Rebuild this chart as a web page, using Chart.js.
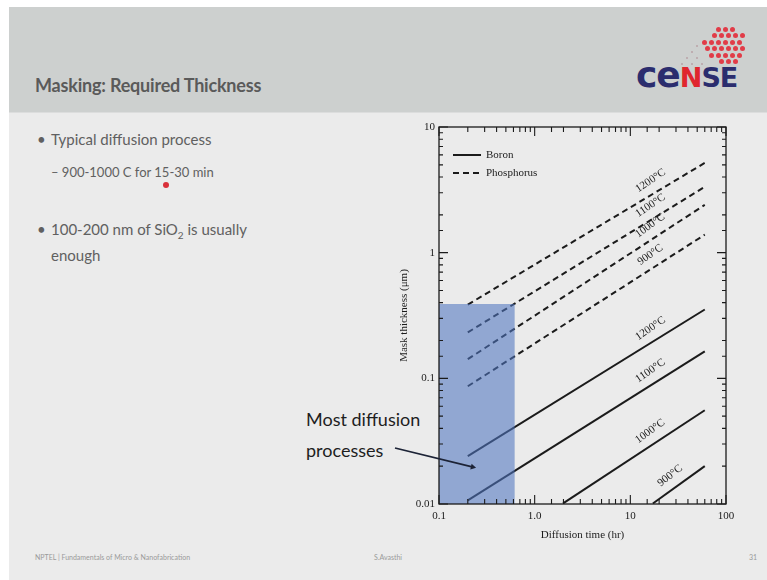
<!DOCTYPE html>
<html>
<head>
<meta charset="utf-8">
<script src="https://cdn.jsdelivr.net/npm/chart.js@4.4.1/dist/chart.umd.min.js"></script>
<style>
  html, body { margin: 0; padding: 0; background: #fff; }
  body { width: 767px; height: 580px; position: relative; overflow: hidden; font-family: Lato, "Open Sans", sans-serif; }
  .slide { position: absolute; left: 9px; top: 7px; width: 758px; height: 573px; background: #ebebeb; }
  .header { position: absolute; left: 0; top: 0; width: 758px; height: 105px; background: #cdd0cf; border-bottom: 1px solid #dcdddd; }
  .title { position: absolute; left: 26px; top: 67px; font-size: 18px; color: #5a5a5a; font-weight: 700; letter-spacing: -0.2px; }
  .logo { position: absolute; left: 627px; top: 47px; color: #2b2d6e; font-weight: 900; font-family: "DejaVu Sans", sans-serif; letter-spacing: -1px; }
  .logo .lc { font-size: 36px; }
  .logo .uc { font-size: 27px; }
  .logo .red { color: #e0262e; }
  .dot { position: absolute; border-radius: 50%; background: #e23a44; }
  .txt { position: absolute; color: #606060; white-space: nowrap; }
  .b1 { font-size: 15px; }
  .b2 { font-size: 13px; }
  .note { position: absolute; left: 306px; top: 404px; font-size: 18px; line-height: 31px; color: #1e1e1e; }
  .foot { position: absolute; top: 553px; font-size: 7px; color: #9a9a9a; }
  #chart { position: absolute; left: 0; top: 0; z-index: 2; }
</style>
</head>
<body>
<div class="slide">
  <div class="header">
    <div class="title">Masking: Required Thickness</div>
    <div class="logo"><span class="lc">ce</span><span class="uc red">N</span><span class="uc">SE</span></div>
  </div>
</div>
<div id="dots"></div>
<div class="txt b1" style="left:37px;top:130px;">•</div>
<div class="txt b1" style="left:51px;top:130px;">Typical diffusion process</div>
<div class="txt b2" style="left:51px;top:164px;">– 900-1000 C for 15-30 min</div>
<div class="dot" style="left:163px;top:182px;width:6px;height:6px;background:#d9303a;"></div>
<div class="txt b1" style="left:37px;top:220px;">•</div>
<div class="txt b1" style="left:51px;top:220px;">100-200 nm of SiO<sub style="font-size:10px;">2</sub> is usually</div>
<div class="txt b1" style="left:51px;top:246px;">enough</div>
<div class="note">Most diffusion<br>processes</div>
<div class="foot" style="left:35px;">NPTEL | Fundamentals of Micro &amp; Nanofabrication</div>
<div class="foot" style="left:374px;">S.Avasthi</div>
<div class="foot" style="left:749px;">31</div>
<canvas id="chart" width="767" height="580"></canvas>
<script>
// values (time in hr, thickness in um)
const tempLabels = ['1200°C', '1100°C', '1000°C', '900°C'];

const boronT0 = [0.2, 0.2, 1.98, 17.2];
const boronT1 = [60, 60, 60, 60];
const boronY0 = [0.024, 0.0107, 0.0101, 0.0101];
const boronY1 = [0.353, 0.164, 0.0557, 0.020];
const boronLabelT = [19, 19, 19, 31];

const phosT0 = [0.2, 0.2, 0.2, 0.2];
const phosT1 = [60, 60, 60, 60];
const phosY0 = [0.386, 0.232, 0.142, 0.0865];
const phosY1 = [5.18, 3.34, 2.40, 1.39];
const phosLabelT = [19, 19, 19, 19];

const regionT = [0.1, 0.62];
const regionTop = 0.39;

const xTickVals = [0.1, 1, 10, 100];
const xTickText = ['0.1', '1.0', '10', '100'];
const yTickVals = [0.01, 0.1, 1, 10];
const yTickText = ['0.01', '0.1', '1', '10'];

const INK = '#1b1b1b';
const SERIF = '"Liberation Serif", "DejaVu Serif", serif';

// logo dots (decoration)
(function () {
  const box = document.getElementById('dots');
  const spans = [[2, 4], [1, 5], [0, 5], [0, 5], [1, 5], [2, 4]];
  const add = (x, y, s, col) => {
    const d = document.createElement('div');
    d.className = 'dot';
    d.style.width = s + 'px';
    d.style.height = s + 'px';
    d.style.left = (x - s / 2) + 'px';
    d.style.top = (y - s / 2) + 'px';
    d.style.background = col;
    box.appendChild(d);
  };
  spans.forEach((sp, r) => {
    for (let c = sp[0]; c <= sp[1]; c++) add(704 + c * 7 + (r % 2) * 3, 29 + r * 6.5, 5, '#e13c48');
  });
  [[697, 46], [692, 52], [687, 58], [697, 58], [692, 64], [682, 64], [702, 64]].forEach(p => add(p[0], p[1], 2, '#b9a3a7'));
})();

function matchTick(value, vals, text) {
  for (let i = 0; i < vals.length; i++) {
    if (Math.abs(Math.log10(value) - Math.log10(vals[i])) < 1e-6) return text[i];
  }
  return '';
}

function lineDataset(t0, t1, y0, y1, dashed) {
  return {
    data: [{ x: t0, y: y0 }, { x: t1, y: y1 }],
    borderColor: INK,
    borderWidth: 2,
    borderDash: dashed ? [6, 4] : [],
    pointRadius: 0,
    fill: false
  };
}

const datasets = [];
// shaded region first so it is painted last (on top, semi-transparent)
datasets.push({
  data: [{ x: regionT[0], y: regionTop }, { x: regionT[1], y: regionTop }],
  borderWidth: 0,
  pointRadius: 0,
  fill: 'start',
  backgroundColor: 'rgba(80,118,192,0.58)'
});
for (let i = 0; i < tempLabels.length; i++) {
  datasets.push(lineDataset(phosT0[i], phosT1[i], phosY0[i], phosY1[i], true));
  datasets.push(lineDataset(boronT0[i], boronT1[i], boronY0[i], boronY1[i], false));
}

function lerpLog(t, t0, t1, y0, y1) {
  const f = (Math.log10(t) - Math.log10(t0)) / (Math.log10(t1) - Math.log10(t0));
  return Math.pow(10, Math.log10(y0) + f * (Math.log10(y1) - Math.log10(y0)));
}

const decorPlugin = {
  id: 'decor',
  afterDraw(chart) {
    const ctx = chart.ctx;
    const a = chart.chartArea;
    const xs = chart.scales.x;
    const ys = chart.scales.y;
    ctx.save();

    // frame
    ctx.strokeStyle = INK;
    ctx.lineWidth = 1.3;
    ctx.strokeRect(a.left, a.top, a.right - a.left, a.bottom - a.top);

    // inward ticks on all four sides
    ctx.lineWidth = 1.1;
    ctx.beginPath();
    xs.ticks.forEach(tk => {
      const p = xs.getPixelForValue(tk.value);
      const major = Math.abs(Math.log10(tk.value) - Math.round(Math.log10(tk.value))) < 1e-6;
      const len = major ? 9 : 5;
      ctx.moveTo(p, a.bottom); ctx.lineTo(p, a.bottom - len);
      ctx.moveTo(p, a.top); ctx.lineTo(p, a.top + len);
    });
    ys.ticks.forEach(tk => {
      const p = ys.getPixelForValue(tk.value);
      const major = Math.abs(Math.log10(tk.value) - Math.round(Math.log10(tk.value))) < 1e-6;
      const len = major ? 9 : 4;
      ctx.moveTo(a.left, p); ctx.lineTo(a.left + len, p);
      ctx.moveTo(a.right, p); ctx.lineTo(a.right - len, p);
    });
    ctx.stroke();

    // curve labels
    ctx.fillStyle = INK;
    ctx.font = '11px ' + SERIF;
    ctx.textAlign = 'center';
    ctx.textBaseline = 'middle';
    const drawLabel = (txt, tl, t0, t1, y0, y1) => {
      const px0 = xs.getPixelForValue(t0), py0 = ys.getPixelForValue(y0);
      const px1 = xs.getPixelForValue(t1), py1 = ys.getPixelForValue(y1);
      const ang = Math.atan2(py1 - py0, px1 - px0);
      const px = xs.getPixelForValue(tl);
      const py = ys.getPixelForValue(lerpLog(tl, t0, t1, y0, y1));
      const d = 12.5;
      ctx.save();
      ctx.translate(px + Math.sin(ang) * d, py - Math.cos(ang) * d);
      ctx.rotate(ang - 0.05);
      ctx.fillText(txt, 0, 0);
      ctx.restore();
    };
    for (let i = 0; i < tempLabels.length; i++) {
      drawLabel(tempLabels[i], phosLabelT[i], phosT0[i], phosT1[i], phosY0[i], phosY1[i]);
      drawLabel(tempLabels[i], boronLabelT[i], boronT0[i], boronT1[i], boronY0[i], boronY1[i]);
    }

    // legend
    ctx.textAlign = 'left';
    ctx.lineWidth = 2;
    ctx.beginPath();
    ctx.moveTo(453, 155); ctx.lineTo(481, 155);
    ctx.stroke();
    ctx.setLineDash([6, 4]);
    ctx.beginPath();
    ctx.moveTo(453, 173); ctx.lineTo(483, 173);
    ctx.stroke();
    ctx.setLineDash([]);
    ctx.fillText('Boron', 486, 155);
    ctx.fillText('Phosphorus', 486, 173);

    // arrow from the note into the shaded region
    const hx = xs.getPixelForValue(0.244), hy = ys.getPixelForValue(0.0194);
    const tx = 395, ty = 448;
    const aa = Math.atan2(hy - ty, hx - tx);
    ctx.strokeStyle = '#1c2336';
    ctx.fillStyle = '#1c2336';
    ctx.lineWidth = 1.8;
    ctx.beginPath();
    ctx.moveTo(tx, ty); ctx.lineTo(hx - Math.cos(aa) * 4, hy - Math.sin(aa) * 4);
    ctx.stroke();
    ctx.beginPath();
    ctx.moveTo(hx, hy);
    ctx.lineTo(hx - Math.cos(aa - 0.5) * 6, hy - Math.sin(aa - 0.5) * 6);
    ctx.lineTo(hx - Math.cos(aa + 0.5) * 6, hy - Math.sin(aa + 0.5) * 6);
    ctx.closePath();
    ctx.fill();

    ctx.restore();
  }
};

new Chart(document.getElementById('chart'), {
  type: 'line',
  data: { datasets },
  options: {
    responsive: false,
    animation: false,
    events: [],
    layout: { padding: { left: 398, right: 41, top: 127, bottom: 36 } },
    plugins: { legend: { display: false }, tooltip: { enabled: false } },
    scales: {
      x: {
        type: 'logarithmic',
        min: 0.1,
        max: 100,
        grid: { display: false, drawTicks: false },
        border: { display: false },
        ticks: {
          autoSkip: false,
          maxRotation: 0,
          padding: 6,
          color: INK,
          font: { family: SERIF, size: 11 },
          callback: v => matchTick(v, xTickVals, xTickText)
        },
        title: {
          display: true,
          text: 'Diffusion time (hr)',
          color: INK,
          font: { family: SERIF, size: 11 },
          padding: { top: 0, bottom: 2 }
        },
        afterFit: s => { s.height = 40; }
      },
      y: {
        type: 'logarithmic',
        min: 0.01,
        max: 10,
        grid: { display: false, drawTicks: false },
        border: { display: false },
        ticks: {
          autoSkip: false,
          padding: 4,
          color: INK,
          font: { family: SERIF, size: 11 },
          callback: v => matchTick(v, yTickVals, yTickText)
        },
        title: {
          display: true,
          text: 'Mask thickness (μm)',
          color: INK,
          font: { family: SERIF, size: 11 },
          padding: { top: 0, bottom: 0 }
        },
        afterFit: s => { s.width = 41; }
      }
    }
  },
  plugins: [decorPlugin]
});
</script>
</body>
</html>
